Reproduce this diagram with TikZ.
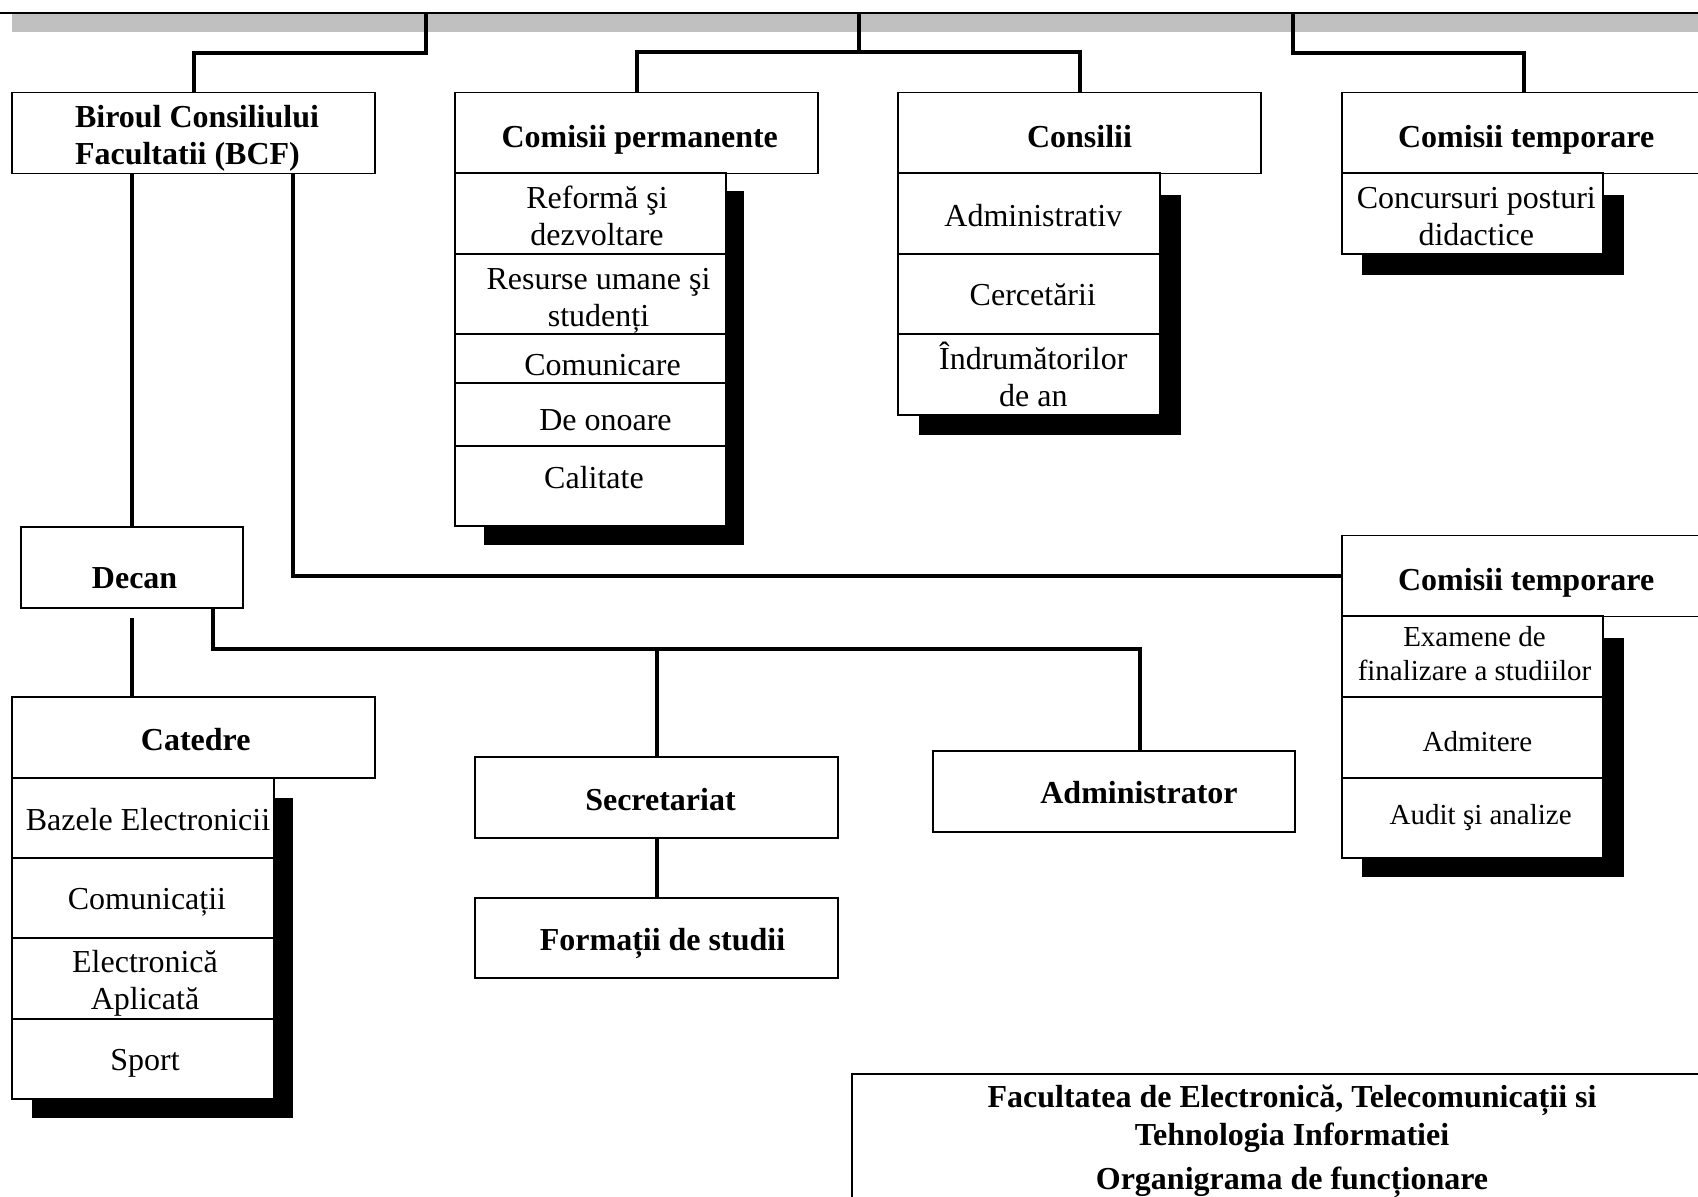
\documentclass[tikz,border=0pt]{standalone}
\usepackage{fontspec}
\setmainfont{Liberation Serif}
\usetikzlibrary{calc}
\definecolor{band}{HTML}{C0C0C0}
\newcommand\orgdown[2]{\raisebox{-#1}[\height][\depth]{#2}}
\tikzset{
  box/.style={draw, line width=0.6pt, inner sep=0pt, align=center, fill=white, font=\fontsize{16}{18.5}\selectfont},
  hbox/.style={box, line width=0.75pt, font=\fontsize{16}{18.5}\selectfont\bfseries, minimum width=181.5pt, minimum height=40.5pt},
  smallbox/.style={box, font=\fontsize{14.5}{17}\selectfont},
  conn/.style={line width=2pt},
  shade/.style={fill=black},
  txt/.style={inner sep=0pt, align=center, font=\fontsize{16}{18.5}\selectfont},
  stxt/.style={txt, font=\fontsize{14.5}{17}\selectfont},
  btxt/.style={txt, font=\fontsize{16}{18.5}\selectfont\bfseries}
}
\begin{document}
\begin{tikzpicture}[x=0.5pt,y=-0.5pt]
\useasboundingbox (0,0) rectangle (1698,1196);
\clip (0,0) rectangle (1698,1196);
% top band
\fill[band] (12,14) rectangle (1710,32);
\draw[line width=0.75pt] (0,13) -- (1710,13);
\coordinate (t1) at (426,13);
\coordinate (t2) at (859,13);
\coordinate (t3) at (1293,13);

% shadows
\fill[shade] (484,191) rectangle (744,545);
\fill[shade] (919,195) rectangle (1181,435);
\fill[shade] (1362,195) rectangle (1624,275);
\fill[shade] (1362,638) rectangle (1624,877);
\fill[shade] (32,798) rectangle (293,1118);

% header row
\node[hbox] (bcf) at (193.5,133) {};
\node[btxt, align=left] (bcft) at (197,138) {Biroul Consiliului\\Facultatii (BCF)};
\node[hbox] (cperm) at (636.5,133) {\hspace*{3.25pt}\orgdown{3.25pt}{Comisii permanente}};
\node[hbox] (cons) at (1079.5,133) {\orgdown{1.6pt}{Consilii}};
\node[hbox] (ctemp) at (1523.5,133) {\hspace*{2.7pt}\orgdown{3.25pt}{Comisii temporare}};

% Comisii permanente
\node[box, minimum width=135.5pt, minimum height=40.5pt] (cp1) at (590.5,213.5) {};
\node[txt] (cp1t) at (597,215.5) {Reformă şi\\dezvoltare};
\node[box, minimum width=135.5pt, minimum height=40pt] (cp2) at (590.5,294) {};
\node[txt] (cp2t) at (598.5,300.5) {Resurse umane şi\\studenți};
\node[box, minimum width=135.5pt, minimum height=24.5pt] (cp3) at (590.5,358.5) {\hspace*{12pt}\orgdown{3.25pt}{Comunicare}};
\node[box, minimum width=135.5pt, minimum height=31.5pt] (cp4) at (590.5,414.5) {\hspace*{15pt}\orgdown{2.7pt}{De onoare}};
\node[box, minimum width=135.5pt, minimum height=40pt] (cp5) at (590.5,486) {};
\node[txt] (cp5t) at (594,478) {Calitate};

% Consilii
\node[box, minimum width=131pt, minimum height=40.5pt] (cs1) at (1029,213.5) {\hspace*{4.3pt}\orgdown{1pt}{Administrativ}};
\node[box, minimum width=131pt, minimum height=40pt] (cs2) at (1029,294) {\hspace*{3.8pt}\orgdown{0.5pt}{Cercetării}};
\node[box, minimum width=131pt, minimum height=40.5pt] (cs3) at (1029,374.5) {};
\node[txt] (cs3t) at (1033.3,374.5) {Îndrumătorilor\\de an};

% Comisii temporare 1
\node[box, minimum width=130.5pt, minimum height=40.5pt] (ct1) at (1472.5,213.5) {};
\node[txt] (ct1t) at (1476.3,216.7) {Concursuri posturi\\didactice};

% Comisii temporare 2
\node[hbox] (ctemp2) at (1523.5,576) {\hspace*{2.7pt}\orgdown{3.25pt}{Comisii temporare}};
\node[smallbox, minimum width=130.5pt, minimum height=40.5pt] (ct21) at (1472.5,656.5) {};
\node[stxt] (ct21t) at (1474.5,653.3) {Examene de\\finalizare a studiilor};
\node[smallbox, minimum width=130.5pt, minimum height=40.5pt] (ct22) at (1472.5,737.5) {\hspace*{4.9pt}\orgdown{2.2pt}{Admitere}};
\node[smallbox, minimum width=130.5pt, minimum height=40pt] (ct23) at (1472.5,818) {\hspace*{8.2pt}Audit şi analize};

% Decan
\node[box, line width=0.75pt, minimum width=111pt, minimum height=40.5pt] (decan) at (132,567.5) {};
\node[btxt] (decant) at (134.6,578) {Decan};

% Catedre
\node[hbox] (cat) at (193.5,737.5) {\hspace*{2.2pt}\orgdown{1pt}{Catedre}};
\node[box, minimum width=131pt, minimum height=40pt] (c1) at (143,818) {\hspace*{5pt}\orgdown{1pt}{Bazele Electronicii}};
\node[box, minimum width=131pt, minimum height=40pt] (c2) at (143,898) {\hspace*{4pt}\orgdown{2.2pt}{Comunicații}};
\node[box, minimum width=131pt, minimum height=40.5pt] (c3) at (143,978.5) {};
\node[txt] (c3t) at (145,983.3) {Electronică\\Aplicată};
\node[box, minimum width=131pt, minimum height=40pt] (c4) at (143,1059) {\hspace*{2pt}\orgdown{2.2pt}{Sport}};

% Secretariat, Formatii, Administrator
\node[hbox, minimum height=40.5pt] (sec) at (656.5,797.5) {\hspace*{4pt}\orgdown{1pt}{Secretariat}};
\node[hbox, minimum height=40pt] (form) at (656.5,938) {\hspace*{6pt}\orgdown{2.7pt}{Formații de studii}};
\node[hbox, minimum width=181pt, minimum height=40.5pt] (adm) at (1114,791.5) {};
\node[btxt] (admt) at (1139,793) {Administrator};

% title box
\node[draw, line width=0.75pt, inner sep=0pt, minimum width=434pt, minimum height=78pt] (title) at (1286,1152) {};
\node[btxt] (titlet) at (1292,1141.5) {Facultatea de Electronică, Telecomunicații si\\[0.5pt]Tehnologia Informatiei\\[3.5pt]Organigrama de funcționare};

% connectors
\draw[conn] (t1) -- ++(0,40) -| (bcf.north);
\draw[conn] (t2) -- ++(0,40);
\draw[conn] (cperm.north) -- ++(0,-40) -| (cons.north);
\draw[conn] (t3) -- ++(0,40) -| (ctemp.north);
\draw[conn] (bcf.south -| decan.north) -- (decan.north);
\draw[conn] ($(bcf.south)+(99.5,0)$) |- (ctemp2.west);
\draw[conn] ($(decan.south)+(0,9)$) coordinate (d1) -- (d1 |- cat.north);
\draw[conn] ($(decan.south)+(81,0)$) -- ++(0,40) coordinate (bus) -| ($(adm.north)+(26,0)$);
\draw[conn] (sec.north) -- (sec.north |- bus);
\draw[conn] (sec.south) -- (form.north);
\end{tikzpicture}
\end{document}
